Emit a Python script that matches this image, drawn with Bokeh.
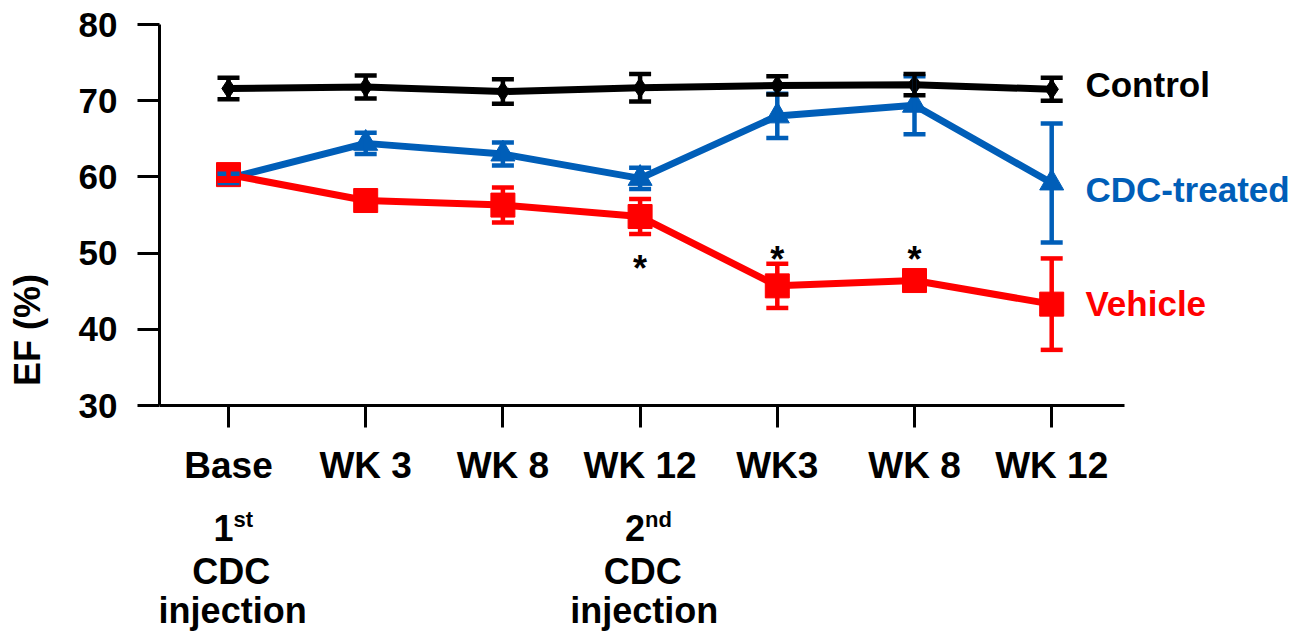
from bokeh.plotting import figure
from bokeh.models import Range1d, FixedTicker, Whisker, ColumnDataSource, Label, TeeHead
from bokeh.core.properties import value
from bokeh.embed import file_html
from bokeh.resources import INLINE

# ---- data ----
timepoints = ["Base", "WK 3", "WK 8", "WK 12", "WK3", "WK 8", "WK 12"]
control_mean = [71.6, 71.8, 71.2, 71.7, 72.0, 72.1, 71.5]
control_err = [1.4, 1.5, 1.6, 1.8, 1.2, 1.4, 1.5]
cdc_mean = [59.8, 64.4, 63.0, 59.8, 68.0, 69.4, 59.2]
cdc_err = [0.6, 1.4, 1.5, 1.4, 2.9, 3.8, 7.8]
vehicle_mean = [60.3, 56.9, 56.3, 54.8, 45.7, 46.4, 43.3]
vehicle_err = [0.8, 0.8, 2.3, 2.3, 2.9, 0.8, 6.0]
series_names = ["Control", "CDC-treated", "Vehicle"]
y_ticks = [30, 40, 50, 60, 70, 80]
signif_idx = [3, 4, 5]          # time points marked with *
signif_text = ["*", "*", "*"]

FONT = "Liberation Sans"
BLUE = "#005EB8"
RED = "#FF0000"
BLACK = "#000000"

xs = list(range(len(timepoints)))

# layout constants (pixels)
W, H = 1297, 635
LEFT, TOP = 159, 24
PX_PER_X = 137.2          # px per time point
PX_PER_Y = 7.62           # px per EF unit
X0_PX = 228               # pixel of first time point
Y_TOP = 80
x_start = (LEFT - X0_PX) / PX_PER_X
x_end = (W - X0_PX) / PX_PER_X
y_start = Y_TOP - (H - TOP) / PX_PER_Y

p = figure(width=W, height=H,
           x_range=Range1d(x_start, x_end), y_range=Range1d(y_start, Y_TOP),
           output_backend="svg", toolbar_location=None,
           min_border_left=LEFT, min_border_right=0,
           min_border_top=TOP, min_border_bottom=0)
p.outline_line_color = None
p.xgrid.visible = False
p.ygrid.visible = False
p.background_fill_color = "white"
p.border_fill_color = "white"

# axes
p.xaxis.ticker = FixedTicker(ticks=xs)
p.xaxis.major_label_overrides = {i: t for i, t in enumerate(timepoints)}
p.xaxis.fixed_location = y_ticks[0]
p.xaxis.bounds = (-0.56, 6.53)
p.yaxis.ticker = FixedTicker(ticks=y_ticks)
p.yaxis.bounds = (y_ticks[0], y_ticks[-1])
for ax in (p.xaxis, p.yaxis):
    ax.axis_line_width = 3
    ax.axis_line_color = "black"
    ax.major_tick_line_width = 3
    ax.major_tick_line_color = "black"
    ax.major_tick_in = 0
    ax.major_tick_out = 22
    ax.minor_tick_line_color = None
    ax.major_label_text_font = FONT
    ax.major_label_text_font_style = "bold"
    ax.major_label_text_color = "black"
p.xaxis.major_label_text_font_size = "37px"
p.xaxis.major_label_standoff = 17
p.yaxis.major_label_text_font_size = "35px"
p.yaxis.major_label_standoff = 20
p.yaxis.axis_label = "EF (%)"
p.yaxis.axis_label_text_font = FONT
p.yaxis.axis_label_text_font_size = "36px"
p.yaxis.axis_label_text_font_style = "bold"
p.yaxis.axis_label_text_color = "black"
p.yaxis.axis_label_standoff = 28


def draw_series(mean, err, color, marker, size):
    src = ColumnDataSource(dict(
        x=xs, y=mean,
        upper=[m + e for m, e in zip(mean, err)],
        lower=[m - e for m, e in zip(mean, err)]))
    w = Whisker(source=src, base="x", upper="upper", lower="lower",
                line_color=color, line_width=4.5, level="glyph",
                upper_head=TeeHead(size=22, line_width=4.5, line_color=color),
                lower_head=TeeHead(size=22, line_width=4.5, line_color=color))
    p.add_layout(w)
    p.line("x", "y", source=src, line_color=color, line_width=7)
    p.scatter("x", "y", source=src, marker=marker, size=size,
              fill_color=color, line_color=color)


draw_series(cdc_mean, cdc_err, BLUE, "triangle", 24)
draw_series(vehicle_mean, vehicle_err, RED, "square", 24)
draw_series(control_mean, control_err, BLACK, "diamond", 20)

# significance asterisks
star_y = [48.0, 49.1, 49.1]
p.text(x=signif_idx, y=star_y, text=signif_text,
       text_font=value(FONT), text_font_size="36px", text_font_style="bold",
       text_color="black", text_align="center", text_baseline="alphabetic")

# series labels (right side)
label_y = [72.1, 58.3, 43.4]
for name, col, yy in zip(series_names, [BLACK, BLUE, RED], label_y):
    p.add_layout(Label(x=6.246, y=yy, text=name, text_font=FONT,
                       text_font_size="35px", text_font_style="bold",
                       text_color=col, text_align="left", text_baseline="middle"))


# injection annotations below the axis
def injection_note(xc, num, sup):
    p.add_layout(Label(x=xc + 0.036, y=13.95, text=num, text_font=FONT,
                       text_font_size="36px", text_font_style="bold",
                       text_color="black", text_align="right",
                       text_baseline="alphabetic"))
    p.add_layout(Label(x=xc + 0.036, y=15.1, text=sup, text_font=FONT,
                       text_font_size="22px", text_font_style="bold",
                       text_color="black", text_align="left",
                       text_baseline="alphabetic"))
    p.add_layout(Label(x=xc + 0.02, y=8.2, text="CDC", text_font=FONT,
                       text_font_size="36px", text_font_style="bold",
                       text_color="black", text_align="center",
                       text_baseline="alphabetic"))
    p.add_layout(Label(x=xc + 0.03, y=3.06, text="injection", text_font=FONT,
                       text_font_size="36px", text_font_style="bold",
                       text_color="black", text_align="center",
                       text_baseline="alphabetic"))


injection_note(0, "1", "st")
injection_note(3, "2", "nd")

open("out.html", "w").write(file_html(p, INLINE))
